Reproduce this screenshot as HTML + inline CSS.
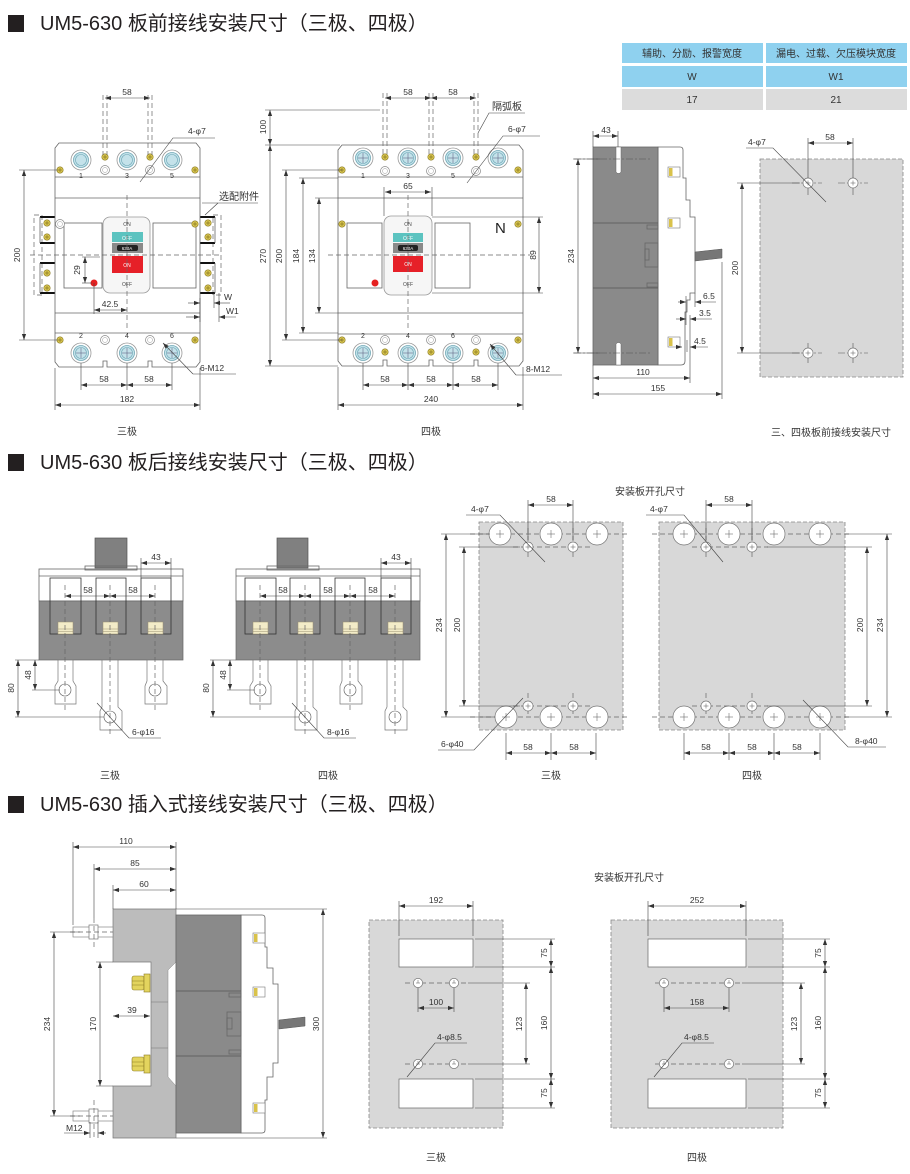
<!DOCTYPE html>
<html><head><meta charset="utf-8">
<style>
html,body{margin:0;padding:0;background:#fff;}
svg{display:block;}
.t{font-family:"Liberation Sans","Noto Sans CJK SC",sans-serif;font-size:8.5px;fill:#333;}
.c{font-family:"Liberation Sans","Noto Sans CJK SC",sans-serif;font-size:10px;fill:#333;}
.h{font-family:"Liberation Sans","Noto Sans CJK SC",sans-serif;font-size:20px;fill:#231f20;}
.d{stroke:#444;stroke-width:0.6;fill:none;}
.o{stroke:#666;stroke-width:0.8;fill:none;}
.ds{stroke:#666;stroke-width:0.7;fill:none;stroke-dasharray:5,3;}
.cl{stroke:#555;stroke-width:0.6;fill:none;stroke-dasharray:7,2,2,2;}
</style></head><body>
<svg width="910" height="1174" viewBox="0 0 910 1174" xmlns="http://www.w3.org/2000/svg">
<defs>
<marker id="a" viewBox="0 0 10 10" refX="10" refY="5" markerWidth="6" markerHeight="6" orient="auto-start-reverse" markerUnits="userSpaceOnUse"><path d="M0,1.5 L10,5 L0,8.5 z" fill="#333"/></marker>
<g id="term"><circle r="10" fill="#fff" stroke="#999" stroke-width="0.8"/><circle r="7.5" fill="#c4e2ea" stroke="#6fa8b6" stroke-width="0.8"/><circle r="5.5" fill="none" stroke="#6fa8b6" stroke-width="0.6"/></g>
<g id="termx"><use href="#term"/><line x1="-5" y1="0" x2="5" y2="0" stroke="#557" stroke-width="0.5"/><line x1="0" y1="-5" x2="0" y2="5" stroke="#557" stroke-width="0.5"/></g>
<g id="ys"><circle r="3.2" fill="#d9c650" stroke="#8b7a22" stroke-width="0.6"/><line x1="-2" y1="0" x2="2" y2="0" stroke="#6b5a10" stroke-width="0.5"/><line x1="0" y1="-2" x2="0" y2="2" stroke="#6b5a10" stroke-width="0.5"/></g>
<g id="ws"><circle r="4.5" fill="#fff" stroke="#888" stroke-width="0.7"/><circle r="2.5" fill="none" stroke="#999" stroke-width="0.5"/></g>
<g id="bh"><circle r="11" fill="#fff" stroke="#777" stroke-width="0.7"/><line x1="-4" y1="0" x2="4" y2="0" stroke="#555" stroke-width="0.5"/><line x1="0" y1="-4" x2="0" y2="4" stroke="#555" stroke-width="0.5"/></g>
<g id="sh"><circle r="5" fill="#fff" stroke="#777" stroke-width="0.7"/><line x1="-2.5" y1="0" x2="2.5" y2="0" stroke="#555" stroke-width="0.5"/><line x1="0" y1="-2.5" x2="0" y2="2.5" stroke="#555" stroke-width="0.5"/></g>
<g id="ph"><circle r="4.6" fill="#fff" stroke="#777" stroke-width="0.7"/><line x1="0" y1="-3" x2="0" y2="0" stroke="#555" stroke-width="0.5"/><line x1="-2" y1="0" x2="2" y2="0" stroke="#555" stroke-width="0.5"/></g>
</defs>

<!-- Headers -->
<rect x="8" y="15" width="16" height="17" fill="#231f20"/>
<text class="h" x="40" y="30">UM5-630  板前接线安装尺寸（三极、四极）</text>
<rect x="8" y="454" width="16" height="17" fill="#231f20"/>
<text class="h" x="40" y="469">UM5-630  板后接线安装尺寸（三极、四极）</text>
<rect x="8" y="796" width="16" height="17" fill="#231f20"/>
<text class="h" x="40" y="811">UM5-630  插入式接线安装尺寸（三极、四极）</text>

<!-- Table -->
<rect x="622" y="43" width="141" height="20" fill="#8fd1ef"/>
<rect x="766" y="43" width="141" height="20" fill="#8fd1ef"/>
<rect x="622" y="66" width="141" height="21" fill="#8fd1ef"/>
<rect x="766" y="66" width="141" height="21" fill="#8fd1ef"/>
<rect x="622" y="89" width="141" height="21" fill="#dcdcdc"/>
<rect x="766" y="89" width="141" height="21" fill="#dcdcdc"/>
<text class="c" x="692" y="57" text-anchor="middle" fill="#222">辅助、分励、报警宽度</text>
<text class="c" x="836" y="57" text-anchor="middle" fill="#222">漏电、过载、欠压模块宽度</text>
<text class="c" x="692" y="80" text-anchor="middle">W</text>
<text class="c" x="836" y="80" text-anchor="middle">W1</text>
<text class="c" x="692" y="103" text-anchor="middle">17</text>
<text class="c" x="836" y="103" text-anchor="middle">21</text>

<!-- ===== 3-pole front ===== -->
<g>
<rect x="34" y="215" width="8" height="80" class="ds"/>
<rect x="213" y="215" width="8" height="80" class="ds"/>
<g stroke="#111" stroke-width="2">
<line x1="40" y1="217" x2="55" y2="217"/><line x1="40" y1="243" x2="55" y2="243"/><line x1="40" y1="263" x2="55" y2="263"/><line x1="40" y1="293" x2="55" y2="293"/>
<line x1="200" y1="217" x2="215" y2="217"/><line x1="200" y1="243" x2="215" y2="243"/><line x1="200" y1="263" x2="215" y2="263"/><line x1="200" y1="293" x2="215" y2="293"/>
</g>
<g class="o"><line x1="40" y1="217" x2="40" y2="243"/><line x1="40" y1="263" x2="40" y2="293"/><line x1="215" y1="217" x2="215" y2="243"/><line x1="215" y1="263" x2="215" y2="293"/></g>
<path d="M55,148 L59,143 L196,143 L200,148 L200,362 L196,367 L152,367 L152,361 L148,361 L148,367 L107,367 L107,361 L103,361 L103,367 L59,367 L55,362 Z" fill="#fff" class="o"/>
<g class="o"><line x1="55" y1="177" x2="200" y2="177"/><line x1="55" y1="198" x2="200" y2="198"/><line x1="55" y1="313" x2="200" y2="313"/><line x1="55" y1="333" x2="200" y2="333"/></g>
<rect x="64" y="223" width="38" height="65" class="o"/>
<rect x="153" y="223" width="43" height="65" class="o"/>
<use href="#term" x="81" y="160"/><use href="#term" x="127" y="160"/><use href="#term" x="172" y="160"/>
<use href="#termx" x="81" y="353"/><use href="#termx" x="127" y="353"/><use href="#termx" x="172" y="353"/>
<use href="#ws" x="105" y="170"/><use href="#ws" x="150" y="170"/><use href="#ws" x="105" y="340"/><use href="#ws" x="150" y="340"/>
<use href="#ys" x="105" y="157"/><use href="#ys" x="150" y="157"/>
<use href="#ys" x="60" y="170"/><use href="#ys" x="195" y="170"/><use href="#ys" x="60" y="340"/><use href="#ys" x="195" y="340"/>
<use href="#ws" x="60" y="224"/><use href="#ys" x="195" y="224"/>
<use href="#ys" x="47" y="223"/><use href="#ys" x="47" y="237"/><use href="#ys" x="47" y="273"/><use href="#ys" x="47" y="288"/>
<use href="#ys" x="208" y="223"/><use href="#ys" x="208" y="237"/><use href="#ys" x="208" y="273"/><use href="#ys" x="208" y="288"/>
<g class="t" font-size="7" text-anchor="middle"><text x="81" y="178" font-size="7">1</text><text x="127" y="178" font-size="7">3</text><text x="172" y="178" font-size="7">5</text>
<text x="81" y="338" font-size="7">2</text><text x="127" y="338" font-size="7">4</text><text x="172" y="338" font-size="7">6</text></g>
<rect x="103" y="217" width="47" height="76" rx="7" fill="#f6f6f6" stroke="#999" stroke-width="0.8"/>
<rect x="112" y="232" width="31" height="10" fill="#5cc3c0"/>
<rect x="112" y="243" width="31" height="10" fill="#8a8a8a"/>
<rect x="117" y="245" width="21" height="6" rx="2" fill="#222"/>
<rect x="112" y="256" width="31" height="17" fill="#e62028"/>
<text x="127" y="240" font-size="5" fill="#fff" text-anchor="middle" font-family="Liberation Sans">OFF</text>
<text x="127" y="250" font-size="4.5" fill="#fff" text-anchor="middle" font-family="Liberation Sans">630A</text>
<text x="127" y="267" font-size="5" fill="#fff" text-anchor="middle" font-family="Liberation Sans">ON</text>
<text x="127" y="226" font-size="5" fill="#444" text-anchor="middle" font-family="Liberation Sans">ON</text>
<text x="127" y="286" font-size="5" fill="#444" text-anchor="middle" font-family="Liberation Sans">OFF</text>
<circle cx="94" cy="283" r="3.5" fill="#e52020"/>
<line x1="30" y1="255" x2="222" y2="255" class="ds"/>
<line x1="127" y1="195" x2="127" y2="330" class="ds"/>
<g class="ds" stroke-dasharray="4,2"><line x1="103" y1="95" x2="103" y2="155"/><line x1="107" y1="95" x2="107" y2="155"/><line x1="148" y1="95" x2="148" y2="155"/><line x1="152" y1="95" x2="152" y2="155"/></g>
<line x1="105" y1="98" x2="150" y2="98" class="d" marker-start="url(#a)" marker-end="url(#a)"/>
<text class="t" x="127" y="95" text-anchor="middle">58</text>
<polyline points="215,138 173,138 140,182" class="d"/>
<text class="t" x="188" y="134">4-φ7</text>
<g class="d"><line x1="19" y1="170" x2="58" y2="170"/><line x1="19" y1="340" x2="58" y2="340"/></g>
<line x1="24" y1="170" x2="24" y2="340" class="d" marker-start="url(#a)" marker-end="url(#a)"/>
<text class="t" transform="translate(20,255) rotate(-90)" text-anchor="middle">200</text>
<g class="d"><line x1="82" y1="257" x2="100" y2="257"/><line x1="82" y1="283" x2="92" y2="283"/><line x1="94" y1="283" x2="94" y2="314"/></g>
<line x1="85" y1="257" x2="85" y2="283" class="d" marker-start="url(#a)" marker-end="url(#a)"/>
<text class="t" transform="translate(80,270) rotate(-90)" text-anchor="middle">29</text>
<line x1="94" y1="310" x2="127" y2="310" class="d" marker-start="url(#a)" marker-end="url(#a)"/>
<text class="t" x="110" y="307" text-anchor="middle">42.5</text>
<g class="d"><line x1="214" y1="293" x2="214" y2="308"/><line x1="219" y1="293" x2="219" y2="322"/><line x1="200" y1="298" x2="200" y2="322"/></g>
<line x1="188" y1="303" x2="200" y2="303" class="d" marker-end="url(#a)"/>
<line x1="230" y1="303" x2="214" y2="303" class="d" marker-end="url(#a)"/>
<text class="t" x="224" y="300">W</text>
<line x1="186" y1="317" x2="200" y2="317" class="d" marker-end="url(#a)"/>
<line x1="236" y1="317" x2="219" y2="317" class="d" marker-end="url(#a)"/>
<text class="t" x="226" y="314">W1</text>
<polyline points="202,203 218,203 258,203" class="d"/><line x1="218" y1="203" x2="205" y2="215" class="d"/>
<text class="c" x="219" y="200">选配附件</text>
<line x1="163" y1="343" x2="193" y2="374" class="d" marker-start="url(#a)"/><line x1="193" y1="374" x2="236" y2="374" class="d"/>
<text class="t" x="200" y="371">6-M12</text>
<g class="d"><line x1="81" y1="363" x2="81" y2="390"/><line x1="127" y1="363" x2="127" y2="390"/><line x1="172" y1="363" x2="172" y2="390"/><line x1="55" y1="368" x2="55" y2="410"/><line x1="200" y1="368" x2="200" y2="410"/></g>
<line x1="81" y1="385" x2="127" y2="385" class="d" marker-start="url(#a)" marker-end="url(#a)"/>
<line x1="127" y1="385" x2="172" y2="385" class="d" marker-start="url(#a)" marker-end="url(#a)"/>
<text class="t" x="104" y="382" text-anchor="middle">58</text><text class="t" x="149" y="382" text-anchor="middle">58</text>
<line x1="55" y1="405" x2="200" y2="405" class="d" marker-start="url(#a)" marker-end="url(#a)"/>
<text class="t" x="127" y="402" text-anchor="middle">182</text>
<text class="c" x="127" y="435" text-anchor="middle">三极</text>
</g>

<!-- ===== 4-pole front ===== -->
<g>
<path d="M338,150 L342,145 L519,145 L523,150 L523,361 L519,366 L478,366 L478,360 L474,360 L474,366 L433,366 L433,360 L429,360 L429,366 L387,366 L387,360 L383,360 L383,366 L342,366 L338,361 Z" fill="#fff" class="o"/>
<g class="o"><line x1="338" y1="177" x2="523" y2="177"/><line x1="338" y1="198" x2="523" y2="198"/><line x1="338" y1="313" x2="523" y2="313"/><line x1="338" y1="334" x2="523" y2="334"/></g>
<rect x="347" y="223" width="35" height="65" class="o"/>
<rect x="435" y="223" width="35" height="65" class="o"/>
<use href="#termx" x="363" y="158"/><use href="#termx" x="408" y="158"/><use href="#termx" x="453" y="158"/><use href="#termx" x="498" y="158"/>
<use href="#termx" x="363" y="353"/><use href="#termx" x="408" y="353"/><use href="#termx" x="453" y="353"/><use href="#termx" x="498" y="353"/>
<use href="#ys" x="385" y="157"/><use href="#ys" x="431" y="157"/><use href="#ys" x="476" y="157"/>
<use href="#ws" x="385" y="171"/><use href="#ws" x="431" y="171"/><use href="#ws" x="476" y="171"/>
<use href="#ws" x="385" y="340"/><use href="#ws" x="431" y="340"/><use href="#ws" x="476" y="340"/>
<use href="#ys" x="385" y="352"/><use href="#ys" x="431" y="352"/><use href="#ys" x="476" y="352"/>
<use href="#ys" x="342" y="170"/><use href="#ys" x="518" y="170"/><use href="#ys" x="342" y="340"/><use href="#ys" x="518" y="340"/>
<use href="#ys" x="342" y="224"/><use href="#ys" x="518" y="224"/>
<g class="t" text-anchor="middle"><text x="363" y="178" font-size="7">1</text><text x="408" y="178" font-size="7">3</text><text x="453" y="178" font-size="7">5</text>
<text x="363" y="338" font-size="7">2</text><text x="408" y="338" font-size="7">4</text><text x="453" y="338" font-size="7">6</text></g>
<rect x="384" y="216" width="48" height="79" rx="7" fill="#f6f6f6" stroke="#999" stroke-width="0.8"/>
<rect x="393" y="233" width="30" height="9" fill="#5cc3c0"/>
<rect x="393" y="243" width="30" height="10" fill="#8a8a8a"/>
<rect x="398" y="245" width="20" height="6" rx="2" fill="#222"/>
<rect x="393" y="256" width="30" height="16" fill="#e62028"/>
<text x="408" y="240" font-size="5" fill="#fff" text-anchor="middle" font-family="Liberation Sans">OFF</text>
<text x="408" y="250" font-size="4.5" fill="#fff" text-anchor="middle" font-family="Liberation Sans">630A</text>
<text x="408" y="266" font-size="5" fill="#fff" text-anchor="middle" font-family="Liberation Sans">ON</text>
<text x="408" y="226" font-size="5" fill="#444" text-anchor="middle" font-family="Liberation Sans">ON</text>
<text x="408" y="286" font-size="5" fill="#444" text-anchor="middle" font-family="Liberation Sans">OFF</text>
<circle cx="375" cy="283" r="3.5" fill="#e52020"/>
<text x="495" y="233" font-size="15" fill="#222" font-family="Liberation Sans">N</text>
<line x1="328" y1="255" x2="530" y2="255" class="ds"/>
<line x1="408" y1="195" x2="408" y2="330" class="ds"/>
<g class="ds" stroke-dasharray="4,2"><line x1="383" y1="93" x2="383" y2="155"/><line x1="387" y1="93" x2="387" y2="155"/><line x1="429" y1="93" x2="429" y2="155"/><line x1="433" y1="93" x2="433" y2="155"/><line x1="474" y1="93" x2="474" y2="155"/><line x1="478" y1="93" x2="478" y2="155"/></g>
<line x1="385" y1="98" x2="431" y2="98" class="d" marker-start="url(#a)" marker-end="url(#a)"/>
<line x1="431" y1="98" x2="476" y2="98" class="d" marker-start="url(#a)" marker-end="url(#a)"/>
<text class="t" x="408" y="95" text-anchor="middle">58</text><text class="t" x="453" y="95" text-anchor="middle">58</text>
<polyline points="525,113 489,113 478,133" class="d"/>
<text class="c" x="492" y="110">隔弧板</text>
<polyline points="540,136 503,136 467,183" class="d"/>
<text class="t" x="508" y="132">6-φ7</text>
<g class="d"><line x1="265" y1="110" x2="380" y2="110"/><line x1="265" y1="145" x2="340" y2="145"/><line x1="265" y1="366" x2="338" y2="366"/>
<line x1="282" y1="170" x2="342" y2="170"/><line x1="282" y1="340" x2="342" y2="340"/>
<line x1="299" y1="178" x2="338" y2="178"/><line x1="299" y1="333" x2="338" y2="333"/>
<line x1="315" y1="198" x2="338" y2="198"/><line x1="315" y1="313" x2="338" y2="313"/></g>
<line x1="270" y1="110" x2="270" y2="145" class="d" marker-start="url(#a)" marker-end="url(#a)"/>
<line x1="270" y1="145" x2="270" y2="366" class="d" marker-start="url(#a)" marker-end="url(#a)"/>
<line x1="286" y1="170" x2="286" y2="340" class="d" marker-start="url(#a)" marker-end="url(#a)"/>
<line x1="303" y1="178" x2="303" y2="333" class="d" marker-start="url(#a)" marker-end="url(#a)"/>
<line x1="319" y1="198" x2="319" y2="313" class="d" marker-start="url(#a)" marker-end="url(#a)"/>
<text class="t" transform="translate(266,127) rotate(-90)" text-anchor="middle">100</text>
<text class="t" transform="translate(266,256) rotate(-90)" text-anchor="middle">270</text>
<text class="t" transform="translate(282,256) rotate(-90)" text-anchor="middle">200</text>
<text class="t" transform="translate(299,256) rotate(-90)" text-anchor="middle">184</text>
<text class="t" transform="translate(315,256) rotate(-90)" text-anchor="middle">134</text>
<g class="d"><line x1="384" y1="187" x2="384" y2="216"/><line x1="432" y1="187" x2="432" y2="216"/></g>
<line x1="385" y1="192" x2="431" y2="192" class="d" marker-start="url(#a)" marker-end="url(#a)"/>
<text class="t" x="408" y="189" text-anchor="middle">65</text>
<g class="d"><line x1="432" y1="217" x2="543" y2="217"/><line x1="432" y1="293" x2="543" y2="293"/></g>
<line x1="539" y1="217" x2="539" y2="293" class="d" marker-start="url(#a)" marker-end="url(#a)"/>
<text class="t" transform="translate(536,255) rotate(-90)" text-anchor="middle">89</text>
<line x1="490" y1="344" x2="516" y2="375" class="d" marker-start="url(#a)"/><line x1="516" y1="375" x2="562" y2="375" class="d"/>
<text class="t" x="526" y="372">8-M12</text>
<g class="d"><line x1="363" y1="363" x2="363" y2="390"/><line x1="408" y1="363" x2="408" y2="390"/><line x1="453" y1="363" x2="453" y2="390"/><line x1="498" y1="363" x2="498" y2="390"/><line x1="338" y1="367" x2="338" y2="410"/><line x1="523" y1="367" x2="523" y2="410"/></g>
<line x1="363" y1="385" x2="408" y2="385" class="d" marker-start="url(#a)" marker-end="url(#a)"/>
<line x1="408" y1="385" x2="453" y2="385" class="d" marker-start="url(#a)" marker-end="url(#a)"/>
<line x1="453" y1="385" x2="498" y2="385" class="d" marker-start="url(#a)" marker-end="url(#a)"/>
<text class="t" x="385" y="382" text-anchor="middle">58</text><text class="t" x="431" y="382" text-anchor="middle">58</text><text class="t" x="476" y="382" text-anchor="middle">58</text>
<line x1="338" y1="405" x2="523" y2="405" class="d" marker-start="url(#a)" marker-end="url(#a)"/>
<text class="t" x="431" y="402" text-anchor="middle">240</text>
<text class="c" x="431" y="435" text-anchor="middle">四极</text>
</g>

<!-- ===== side view ===== -->
<g>
<path d="M658,147 L680,147 Q683,147 683,150 L683,178 L686,178 L686,200 L690,200 L690,217 L695,217 L695,293 L690,293 L690,300 L687,300 L687,312 L685,312 L685,361 Q685,365 681,365 L658,365 Z" fill="#fff" class="o"/>
<rect x="593" y="147" width="65" height="218" fill="#8a8a8a" stroke="#666" stroke-width="0.8"/>
<g stroke="#555" stroke-width="0.8"><line x1="593" y1="223" x2="658" y2="223"/><line x1="593" y1="288" x2="658" y2="288"/></g>
<path d="M616,147 L616,172 Q618.5,175 621,172 L621,147 Z" fill="#fff" stroke="#666" stroke-width="0.5"/>
<path d="M616,365 L616,344 Q618.5,341 621,344 L621,365 Z" fill="#fff" stroke="#666" stroke-width="0.5"/>
<g class="o" stroke="#555"><rect x="647" y="225" width="11" height="4"/><rect x="647" y="283" width="11" height="4"/><rect x="645" y="243" width="13" height="24"/><rect x="645" y="249" width="4" height="11"/></g>
<line x1="574" y1="159" x2="650" y2="159" class="cl"/><line x1="574" y1="353" x2="650" y2="353" class="cl"/>
<g><rect x="668" y="167" width="12" height="10" fill="#fff" stroke="#777" stroke-width="0.6"/><rect x="669" y="168" width="3.5" height="8" fill="#d9c24a"/>
<rect x="668" y="218" width="12" height="10" fill="#fff" stroke="#777" stroke-width="0.6"/><rect x="669" y="219" width="3.5" height="8" fill="#d9c24a"/>
<rect x="668" y="337" width="12" height="10" fill="#fff" stroke="#777" stroke-width="0.6"/><rect x="669" y="338" width="3.5" height="8" fill="#d9c24a"/></g>
<polygon points="695,252 722,249 722,258 695,261" fill="#777" stroke="#555" stroke-width="0.5"/>
<g class="d"><line x1="593" y1="131" x2="593" y2="147"/><line x1="618" y1="131" x2="618" y2="147"/></g>
<line x1="593" y1="136" x2="618" y2="136" class="d" marker-start="url(#a)" marker-end="url(#a)"/>
<text class="t" x="606" y="133" text-anchor="middle">43</text>
<g class="d"><line x1="573" y1="159" x2="600" y2="159"/><line x1="573" y1="353" x2="600" y2="353"/></g>
<line x1="578" y1="159" x2="578" y2="353" class="d" marker-start="url(#a)" marker-end="url(#a)"/>
<text class="t" transform="translate(574,256) rotate(-90)" text-anchor="middle">234</text>
<g class="d"><line x1="686" y1="296" x2="686" y2="325"/><line x1="695" y1="293" x2="695" y2="307"/><line x1="690" y1="315" x2="690" y2="353"/><line x1="687" y1="340" x2="687" y2="352"/></g>
<line x1="678" y1="302" x2="686" y2="302" class="d" marker-end="url(#a)"/><line x1="716" y1="302" x2="695" y2="302" class="d" marker-end="url(#a)"/>
<text class="t" x="703" y="299">6.5</text>
<line x1="676" y1="319" x2="686" y2="319" class="d" marker-end="url(#a)"/><line x1="712" y1="319" x2="690" y2="319" class="d" marker-end="url(#a)"/>
<text class="t" x="699" y="316">3.5</text>
<line x1="676" y1="347" x2="682" y2="347" class="d" marker-end="url(#a)"/><line x1="708" y1="347" x2="690" y2="347" class="d" marker-end="url(#a)"/>
<text class="t" x="694" y="344">4.5</text>
<g class="d"><line x1="593" y1="365" x2="593" y2="399"/><line x1="690" y1="353" x2="690" y2="383"/><line x1="722" y1="262" x2="722" y2="399"/></g>
<line x1="593" y1="378" x2="690" y2="378" class="d" marker-start="url(#a)" marker-end="url(#a)"/>
<text class="t" x="643" y="375" text-anchor="middle">110</text>
<line x1="593" y1="394" x2="722" y2="394" class="d" marker-start="url(#a)" marker-end="url(#a)"/>
<text class="t" x="658" y="391" text-anchor="middle">155</text>
</g>

<!-- front mounting panel -->
<g>
<rect x="760" y="159" width="143" height="218" fill="#d8d8d8" stroke="#888" stroke-width="0.8" stroke-dasharray="4,2"/>
<g class="cl"><line x1="792" y1="183" x2="822" y2="183"/><line x1="838" y1="183" x2="868" y2="183"/><line x1="792" y1="353" x2="822" y2="353"/><line x1="838" y1="353" x2="868" y2="353"/>
<line x1="808" y1="343" x2="808" y2="363"/><line x1="853" y1="343" x2="853" y2="363"/><line x1="808" y1="188" x2="808" y2="196"/><line x1="853" y1="188" x2="853" y2="196"/></g>
<use href="#sh" x="808" y="183"/><use href="#sh" x="853" y="183"/><use href="#sh" x="808" y="353"/><use href="#sh" x="853" y="353"/>
<g class="d"><line x1="808" y1="138" x2="808" y2="178"/><line x1="853" y1="138" x2="853" y2="178"/><line x1="737" y1="183" x2="800" y2="183"/><line x1="737" y1="353" x2="800" y2="353"/></g>
<line x1="808" y1="143" x2="853" y2="143" class="d" marker-start="url(#a)" marker-end="url(#a)"/>
<text class="t" x="830" y="140" text-anchor="middle">58</text>
<polyline points="746,148 773,148 826,202" class="d"/>
<text class="t" x="748" y="145">4-φ7</text>
<line x1="742" y1="183" x2="742" y2="353" class="d" marker-start="url(#a)" marker-end="url(#a)"/>
<text class="t" transform="translate(738,268) rotate(-90)" text-anchor="middle">200</text>
<text class="c" x="831" y="436" text-anchor="middle">三、四极板前接线安装尺寸</text>
</g>

<!-- ===== rear 3-pole ===== -->
<g>
<rect x="95" y="538" width="32" height="30" fill="#808080" stroke="#555" stroke-width="0.7"/>
<rect x="85" y="566" width="52" height="4" fill="#fff" class="o"/>
<rect x="39" y="569" width="144" height="32" fill="#fff" class="o"/>
<line x1="39" y1="576" x2="183" y2="576" class="o"/>
<rect x="39" y="601" width="144" height="59" fill="#8c8c8c" stroke="#666" stroke-width="0.7"/>
<g stroke="#333" stroke-width="0.8" fill="none"><rect x="50" y="578" width="31" height="56"/><rect x="96" y="578" width="30" height="56"/><rect x="141" y="578" width="30" height="56"/></g>
<g fill="#f3ecc8" stroke="#9a9070" stroke-width="0.5"><rect x="58" y="622" width="15" height="12"/><rect x="103" y="622" width="15" height="12"/><rect x="148" y="622" width="15" height="12"/></g>
<g stroke="#9a9070" stroke-width="0.5"><line x1="58" y1="629" x2="73" y2="629"/><line x1="58" y1="631.5" x2="73" y2="631.5"/><line x1="103" y1="629" x2="118" y2="629"/><line x1="103" y1="631.5" x2="118" y2="631.5"/><line x1="148" y1="629" x2="163" y2="629"/><line x1="148" y1="631.5" x2="163" y2="631.5"/></g>
<g fill="#fff" stroke="#777" stroke-width="0.7">
<path d="M58,660 V681 L55,686 V704 H76 V686 L73,681 V660 Z"/>
<path d="M102,660 V707 L100,711 V730 H122 V711 L118,707 V660 Z"/>
<path d="M147,660 V681 L145,686 V704 H167 V686 L163,681 V660 Z"/>
</g>
<g fill="#fff" stroke="#555" stroke-width="0.6"><circle cx="65" cy="690" r="6"/><circle cx="110" cy="717" r="6"/><circle cx="155" cy="690" r="6"/></g>
<g class="ds" stroke-dasharray="5,3"><line x1="65" y1="585" x2="65" y2="712"/><line x1="110" y1="585" x2="110" y2="735"/><line x1="155" y1="585" x2="155" y2="712"/></g>
<line x1="65" y1="596" x2="110" y2="596" class="d" marker-start="url(#a)" marker-end="url(#a)"/>
<line x1="110" y1="596" x2="155" y2="596" class="d" marker-start="url(#a)" marker-end="url(#a)"/>
<text class="t" x="88" y="593" text-anchor="middle">58</text><text class="t" x="133" y="593" text-anchor="middle">58</text>
<g class="d"><line x1="141" y1="558" x2="141" y2="578"/><line x1="171" y1="558" x2="171" y2="578"/></g>
<line x1="141" y1="563" x2="171" y2="563" class="d" marker-start="url(#a)" marker-end="url(#a)"/>
<text class="t" x="156" y="560" text-anchor="middle">43</text>
<g class="d"><line x1="15" y1="660" x2="39" y2="660"/><line x1="32" y1="690" x2="60" y2="690"/><line x1="15" y1="717" x2="104" y2="717"/></g>
<line x1="35" y1="660" x2="35" y2="690" class="d" marker-start="url(#a)" marker-end="url(#a)"/>
<line x1="18" y1="660" x2="18" y2="717" class="d" marker-start="url(#a)" marker-end="url(#a)"/>
<text class="t" transform="translate(31,675) rotate(-90)" text-anchor="middle">48</text>
<text class="t" transform="translate(14,688) rotate(-90)" text-anchor="middle">80</text>
<polyline points="97,703 129,738 161,738" class="d"/>
<text class="t" x="132" y="735">6-φ16</text>
<text class="c" x="110" y="779" text-anchor="middle">三极</text>
</g>

<!-- ===== rear 4-pole ===== -->
<g>
<rect x="277" y="538" width="31" height="30" fill="#808080" stroke="#555" stroke-width="0.7"/>
<rect x="267" y="566" width="52" height="4" fill="#fff" class="o"/>
<rect x="236" y="569" width="184" height="32" fill="#fff" class="o"/>
<line x1="236" y1="576" x2="420" y2="576" class="o"/>
<rect x="236" y="601" width="184" height="59" fill="#8c8c8c" stroke="#666" stroke-width="0.7"/>
<g stroke="#333" stroke-width="0.8" fill="none"><rect x="245" y="578" width="31" height="56"/><rect x="290" y="578" width="30" height="56"/><rect x="335" y="578" width="30" height="56"/><rect x="381" y="578" width="30" height="56"/></g>
<g fill="#f3ecc8" stroke="#9a9070" stroke-width="0.5"><rect x="253" y="622" width="15" height="12"/><rect x="298" y="622" width="15" height="12"/><rect x="343" y="622" width="15" height="12"/><rect x="388" y="622" width="15" height="12"/></g>
<g stroke="#9a9070" stroke-width="0.5"><line x1="253" y1="629" x2="268" y2="629"/><line x1="298" y1="629" x2="313" y2="629"/><line x1="343" y1="629" x2="358" y2="629"/><line x1="388" y1="629" x2="403" y2="629"/><line x1="253" y1="631.5" x2="268" y2="631.5"/><line x1="298" y1="631.5" x2="313" y2="631.5"/><line x1="343" y1="631.5" x2="358" y2="631.5"/><line x1="388" y1="631.5" x2="403" y2="631.5"/></g>
<g fill="#fff" stroke="#777" stroke-width="0.7">
<path d="M253,660 V681 L250,686 V704 H271 V686 L268,681 V660 Z"/>
<path d="M297,660 V707 L295,711 V730 H317 V711 L313,707 V660 Z"/>
<path d="M342,660 V681 L340,686 V704 H362 V686 L358,681 V660 Z"/>
<path d="M387,660 V707 L385,711 V730 H407 V711 L403,707 V660 Z"/>
</g>
<g fill="#fff" stroke="#555" stroke-width="0.6"><circle cx="260" cy="690" r="6"/><circle cx="305" cy="717" r="6"/><circle cx="350" cy="690" r="6"/><circle cx="395" cy="717" r="6"/></g>
<g class="ds" stroke-dasharray="5,3"><line x1="260" y1="585" x2="260" y2="712"/><line x1="305" y1="585" x2="305" y2="735"/><line x1="350" y1="585" x2="350" y2="712"/><line x1="395" y1="585" x2="395" y2="735"/></g>
<line x1="260" y1="596" x2="305" y2="596" class="d" marker-start="url(#a)" marker-end="url(#a)"/>
<line x1="305" y1="596" x2="350" y2="596" class="d" marker-start="url(#a)" marker-end="url(#a)"/>
<line x1="350" y1="596" x2="395" y2="596" class="d" marker-start="url(#a)" marker-end="url(#a)"/>
<text class="t" x="283" y="593" text-anchor="middle">58</text><text class="t" x="328" y="593" text-anchor="middle">58</text><text class="t" x="373" y="593" text-anchor="middle">58</text>
<g class="d"><line x1="381" y1="558" x2="381" y2="578"/><line x1="411" y1="558" x2="411" y2="578"/></g>
<line x1="381" y1="563" x2="411" y2="563" class="d" marker-start="url(#a)" marker-end="url(#a)"/>
<text class="t" x="396" y="560" text-anchor="middle">43</text>
<g class="d"><line x1="210" y1="660" x2="236" y2="660"/><line x1="227" y1="690" x2="255" y2="690"/><line x1="210" y1="717" x2="299" y2="717"/></g>
<line x1="230" y1="660" x2="230" y2="690" class="d" marker-start="url(#a)" marker-end="url(#a)"/>
<line x1="213" y1="660" x2="213" y2="717" class="d" marker-start="url(#a)" marker-end="url(#a)"/>
<text class="t" transform="translate(226,675) rotate(-90)" text-anchor="middle">48</text>
<text class="t" transform="translate(209,688) rotate(-90)" text-anchor="middle">80</text>
<polyline points="292,703 324,738 356,738" class="d"/>
<text class="t" x="327" y="735">8-φ16</text>
<text class="c" x="328" y="779" text-anchor="middle">四极</text>
</g>

<!-- ===== rear cutout panels ===== -->
<text class="c" x="650" y="495" text-anchor="middle">安装板开孔尺寸</text>
<g>
<rect x="479" y="522" width="144" height="208" fill="#d8d8d8" stroke="#888" stroke-width="0.8" stroke-dasharray="4,2"/>
<g class="ds" stroke-dasharray="6,3"><line x1="470" y1="534" x2="627" y2="534"/><line x1="470" y1="717" x2="627" y2="717"/><line x1="513" y1="547" x2="590" y2="547"/><line x1="513" y1="706" x2="590" y2="706"/>
<line x1="528" y1="528" x2="528" y2="560"/><line x1="573" y1="528" x2="573" y2="560"/><line x1="528" y1="693" x2="528" y2="715"/><line x1="573" y1="693" x2="573" y2="715"/></g>
<use href="#bh" x="500" y="534"/><use href="#bh" x="551" y="534"/><use href="#bh" x="597" y="534"/>
<use href="#bh" x="506" y="717"/><use href="#bh" x="551" y="717"/><use href="#bh" x="597" y="717"/>
<use href="#sh" x="528" y="547"/><use href="#sh" x="573" y="547"/><use href="#sh" x="528" y="706"/><use href="#sh" x="573" y="706"/>
<g class="d"><line x1="441" y1="534" x2="490" y2="534"/><line x1="441" y1="717" x2="495" y2="717"/><line x1="459" y1="547" x2="520" y2="547"/><line x1="459" y1="706" x2="520" y2="706"/>
<line x1="528" y1="500" x2="528" y2="540"/><line x1="573" y1="500" x2="573" y2="540"/>
<line x1="506" y1="733" x2="506" y2="760"/><line x1="551" y1="733" x2="551" y2="760"/><line x1="596" y1="733" x2="596" y2="760"/></g>
<line x1="446" y1="534" x2="446" y2="717" class="d" marker-start="url(#a)" marker-end="url(#a)"/>
<line x1="464" y1="547" x2="464" y2="706" class="d" marker-start="url(#a)" marker-end="url(#a)"/>
<text class="t" transform="translate(442,625) rotate(-90)" text-anchor="middle">234</text>
<text class="t" transform="translate(460,625) rotate(-90)" text-anchor="middle">200</text>
<line x1="528" y1="505" x2="573" y2="505" class="d" marker-start="url(#a)" marker-end="url(#a)"/>
<text class="t" x="551" y="502" text-anchor="middle">58</text>
<polyline points="466,515 500,515 545,562" class="d"/>
<text class="t" x="471" y="512">4-φ7</text>
<polyline points="438,750 474,750 523,698" class="d"/>
<text class="t" x="441" y="747">6-φ40</text>
<line x1="506" y1="753" x2="551" y2="753" class="d" marker-start="url(#a)" marker-end="url(#a)"/>
<line x1="551" y1="753" x2="596" y2="753" class="d" marker-start="url(#a)" marker-end="url(#a)"/>
<text class="t" x="528" y="750" text-anchor="middle">58</text><text class="t" x="574" y="750" text-anchor="middle">58</text>
<text class="c" x="551" y="779" text-anchor="middle">三极</text>
</g>
<g>
<rect x="659" y="522" width="186" height="208" fill="#d8d8d8" stroke="#888" stroke-width="0.8" stroke-dasharray="4,2"/>
<g class="ds" stroke-dasharray="6,3"><line x1="652" y1="534" x2="850" y2="534"/><line x1="652" y1="717" x2="850" y2="717"/><line x1="692" y1="547" x2="768" y2="547"/><line x1="692" y1="706" x2="768" y2="706"/>
<line x1="706" y1="528" x2="706" y2="560"/><line x1="752" y1="528" x2="752" y2="560"/><line x1="706" y1="693" x2="706" y2="715"/><line x1="752" y1="693" x2="752" y2="715"/></g>
<use href="#bh" x="684" y="534"/><use href="#bh" x="729" y="534"/><use href="#bh" x="774" y="534"/><use href="#bh" x="820" y="534"/>
<use href="#bh" x="684" y="717"/><use href="#bh" x="729" y="717"/><use href="#bh" x="774" y="717"/><use href="#bh" x="820" y="717"/>
<use href="#sh" x="706" y="547"/><use href="#sh" x="752" y="547"/><use href="#sh" x="706" y="706"/><use href="#sh" x="752" y="706"/>
<g class="d"><line x1="767" y1="547" x2="872" y2="547"/><line x1="767" y1="706" x2="872" y2="706"/><line x1="845" y1="534" x2="892" y2="534"/><line x1="845" y1="717" x2="892" y2="717"/>
<line x1="706" y1="500" x2="706" y2="540"/><line x1="752" y1="500" x2="752" y2="540"/>
<line x1="684" y1="733" x2="684" y2="760"/><line x1="729" y1="733" x2="729" y2="760"/><line x1="774" y1="733" x2="774" y2="760"/><line x1="820" y1="733" x2="820" y2="760"/></g>
<line x1="867" y1="547" x2="867" y2="706" class="d" marker-start="url(#a)" marker-end="url(#a)"/>
<line x1="887" y1="534" x2="887" y2="717" class="d" marker-start="url(#a)" marker-end="url(#a)"/>
<text class="t" transform="translate(863,625) rotate(-90)" text-anchor="middle">200</text>
<text class="t" transform="translate(883,625) rotate(-90)" text-anchor="middle">234</text>
<line x1="706" y1="505" x2="752" y2="505" class="d" marker-start="url(#a)" marker-end="url(#a)"/>
<text class="t" x="729" y="502" text-anchor="middle">58</text>
<polyline points="646,515 684,515 723,562" class="d"/>
<text class="t" x="650" y="512">4-φ7</text>
<polyline points="886,747 848,747 803,700" class="d"/>
<text class="t" x="855" y="744">8-φ40</text>
<line x1="684" y1="753" x2="729" y2="753" class="d" marker-start="url(#a)" marker-end="url(#a)"/>
<line x1="729" y1="753" x2="774" y2="753" class="d" marker-start="url(#a)" marker-end="url(#a)"/>
<line x1="774" y1="753" x2="820" y2="753" class="d" marker-start="url(#a)" marker-end="url(#a)"/>
<text class="t" x="706" y="750" text-anchor="middle">58</text><text class="t" x="752" y="750" text-anchor="middle">58</text><text class="t" x="797" y="750" text-anchor="middle">58</text>
<text class="c" x="752" y="779" text-anchor="middle">四极</text>
</g>

<!-- ===== plug-in side view ===== -->
<g>
<g class="d"><line x1="176" y1="909" x2="327" y2="909"/><line x1="176" y1="1138" x2="327" y2="1138"/></g>
<path d="M113,909 L176,909 L176,1138 L113,1138 L113,1086 L151,1086 L151,962 L113,962 Z" fill="#bcbcbc" stroke="#777" stroke-width="0.7"/>
<polygon points="176,962 168,970 168,1077 176,1086" fill="#fff" stroke="#888" stroke-width="0.5"/>
<g stroke="#777" stroke-width="0.6"><line x1="151" y1="1002" x2="168" y2="1002"/><line x1="151" y1="1048" x2="168" y2="1048"/></g>
<path d="M241,915 L262,915 Q265,915 265,918 L265,947 L267,947 L267,968 L273,968 L273,984 L278,984 L278,1063 L273,1063 L273,1077 L267,1077 L267,1100 L265,1100 L265,1130 Q265,1133 262,1133 L241,1133 Z" fill="#fff" class="o"/>
<rect x="176" y="915" width="65" height="218" fill="#8a8a8a" stroke="#666" stroke-width="0.8"/>
<g stroke="#555" stroke-width="0.8"><line x1="176" y1="991" x2="241" y2="991"/><line x1="176" y1="1056" x2="241" y2="1056"/></g>
<g class="o" stroke="#555"><rect x="229" y="993" width="12" height="4"/><rect x="229" y="1050" width="12" height="4"/><rect x="227" y="1012" width="14" height="24"/><rect x="227" y="1018" width="5" height="11"/></g>
<g><rect x="253" y="933" width="12" height="10" fill="#fff" stroke="#777" stroke-width="0.6"/><rect x="254" y="934" width="3.5" height="8" fill="#d9c24a"/>
<rect x="253" y="987" width="12" height="10" fill="#fff" stroke="#777" stroke-width="0.6"/><rect x="254" y="988" width="3.5" height="8" fill="#d9c24a"/>
<rect x="253" y="1103" width="12" height="10" fill="#fff" stroke="#777" stroke-width="0.6"/><rect x="254" y="1104" width="3.5" height="8" fill="#d9c24a"/></g>
<polygon points="279,1020 305,1017 305,1026 279,1029" fill="#777" stroke="#555" stroke-width="0.5"/>
<g fill="#e3d45e" stroke="#8b7a22" stroke-width="0.6">
<rect x="132" y="976" width="12" height="14" rx="2"/><rect x="144" y="974" width="6" height="18"/>
<rect x="132" y="1057" width="12" height="14" rx="2"/><rect x="144" y="1055" width="6" height="18"/></g>
<g stroke="#8b7a22" stroke-width="0.5"><line x1="132" y1="981" x2="144" y2="981"/><line x1="132" y1="985" x2="144" y2="985"/><line x1="132" y1="1062" x2="144" y2="1062"/><line x1="132" y1="1066" x2="144" y2="1066"/></g>
<rect x="73" y="927" width="40" height="10" fill="#fff" stroke="#888" stroke-width="0.7"/>
<rect x="89" y="925" width="9" height="14" fill="#fff" stroke="#777" stroke-width="0.7"/>
<rect x="73" y="1111" width="40" height="10" fill="#fff" stroke="#888" stroke-width="0.7"/>
<rect x="89" y="1109" width="9" height="14" fill="#fff" stroke="#777" stroke-width="0.7"/>
<g class="ds" stroke-dasharray="4,2"><line x1="70" y1="932" x2="113" y2="932"/><line x1="70" y1="1116" x2="113" y2="1116"/><line x1="94" y1="918" x2="94" y2="948"/><line x1="94" y1="1100" x2="94" y2="1140"/></g>
<g class="d"><line x1="73" y1="842" x2="73" y2="925"/><line x1="94" y1="864" x2="94" y2="918"/><line x1="113" y1="885" x2="113" y2="909"/><line x1="176" y1="842" x2="176" y2="909"/>
<line x1="50" y1="932" x2="80" y2="932"/><line x1="50" y1="1116" x2="80" y2="1116"/><line x1="96" y1="962" x2="113" y2="962"/><line x1="96" y1="1086" x2="113" y2="1086"/>
<line x1="90" y1="1122" x2="90" y2="1138"/><line x1="98" y1="1122" x2="98" y2="1138"/></g>
<line x1="73" y1="847" x2="176" y2="847" class="d" marker-start="url(#a)" marker-end="url(#a)"/>
<text class="t" x="126" y="844" text-anchor="middle">110</text>
<line x1="94" y1="869" x2="176" y2="869" class="d" marker-start="url(#a)" marker-end="url(#a)"/>
<text class="t" x="135" y="866" text-anchor="middle">85</text>
<line x1="113" y1="890" x2="176" y2="890" class="d" marker-start="url(#a)" marker-end="url(#a)"/>
<text class="t" x="144" y="887" text-anchor="middle">60</text>
<line x1="54" y1="932" x2="54" y2="1116" class="d" marker-start="url(#a)" marker-end="url(#a)"/>
<text class="t" transform="translate(50,1024) rotate(-90)" text-anchor="middle">234</text>
<line x1="100" y1="962" x2="100" y2="1086" class="d" marker-start="url(#a)" marker-end="url(#a)"/>
<text class="t" transform="translate(96,1024) rotate(-90)" text-anchor="middle">170</text>
<line x1="113" y1="1016" x2="150" y2="1016" class="d" marker-start="url(#a)" marker-end="url(#a)"/>
<text class="t" x="132" y="1013" text-anchor="middle">39</text>
<line x1="64" y1="1133" x2="90" y2="1133" class="d" marker-end="url(#a)"/><line x1="106" y1="1133" x2="98" y2="1133" class="d" marker-end="url(#a)"/>
<text class="t" x="66" y="1131">M12</text>
<line x1="323" y1="909" x2="323" y2="1138" class="d" marker-start="url(#a)" marker-end="url(#a)"/>
<text class="t" transform="translate(319,1024) rotate(-90)" text-anchor="middle">300</text>
</g>

<!-- ===== plug-in cutouts ===== -->
<text class="c" x="629" y="881" text-anchor="middle">安装板开孔尺寸</text>
<g>
<rect x="369" y="920" width="134" height="208" fill="#d8d8d8" stroke="#888" stroke-width="0.8" stroke-dasharray="4,2"/>
<rect x="399" y="939" width="74" height="28" fill="#fff" stroke="#666" stroke-width="0.7"/>
<rect x="399" y="1079" width="74" height="29" fill="#fff" stroke="#666" stroke-width="0.7"/>
<g class="ds" stroke-dasharray="5,3"><line x1="405" y1="983" x2="468" y2="983"/><line x1="405" y1="1064" x2="468" y2="1064"/></g>
<g class="d"><line x1="468" y1="983" x2="530" y2="983"/><line x1="468" y1="1064" x2="530" y2="1064"/>
<line x1="475" y1="939" x2="555" y2="939"/><line x1="475" y1="967" x2="555" y2="967"/><line x1="475" y1="1079" x2="555" y2="1079"/><line x1="475" y1="1108" x2="555" y2="1108"/>
<line x1="399" y1="901" x2="399" y2="936"/><line x1="473" y1="901" x2="473" y2="936"/><line x1="418" y1="987" x2="418" y2="1012"/><line x1="454" y1="987" x2="454" y2="1012"/></g>
<use href="#ph" x="418" y="983"/><use href="#ph" x="454" y="983"/><use href="#ph" x="418" y="1064"/><use href="#ph" x="454" y="1064"/>
<line x1="399" y1="906" x2="473" y2="906" class="d" marker-start="url(#a)" marker-end="url(#a)"/>
<text class="t" x="436" y="903" text-anchor="middle">192</text>
<line x1="418" y1="1008" x2="454" y2="1008" class="d" marker-start="url(#a)" marker-end="url(#a)"/>
<text class="t" x="436" y="1005" text-anchor="middle">100</text>
<line x1="526" y1="983" x2="526" y2="1064" class="d" marker-start="url(#a)" marker-end="url(#a)"/>
<text class="t" transform="translate(522,1024) rotate(-90)" text-anchor="middle">123</text>
<line x1="551" y1="939" x2="551" y2="967" class="d" marker-start="url(#a)" marker-end="url(#a)"/>
<line x1="551" y1="967" x2="551" y2="1079" class="d" marker-start="url(#a)" marker-end="url(#a)"/>
<line x1="551" y1="1079" x2="551" y2="1108" class="d" marker-start="url(#a)" marker-end="url(#a)"/>
<text class="t" transform="translate(547,953) rotate(-90)" text-anchor="middle">75</text>
<text class="t" transform="translate(547,1023) rotate(-90)" text-anchor="middle">160</text>
<text class="t" transform="translate(547,1093) rotate(-90)" text-anchor="middle">75</text>
<polyline points="467,1043 435,1043 407,1077" class="d"/>
<text class="t" x="437" y="1040">4-φ8.5</text>
<text class="c" x="436" y="1161" text-anchor="middle">三极</text>
</g>
<g>
<rect x="611" y="920" width="172" height="208" fill="#d8d8d8" stroke="#888" stroke-width="0.8" stroke-dasharray="4,2"/>
<rect x="648" y="939" width="98" height="28" fill="#fff" stroke="#666" stroke-width="0.7"/>
<rect x="648" y="1079" width="98" height="29" fill="#fff" stroke="#666" stroke-width="0.7"/>
<g class="ds" stroke-dasharray="5,3"><line x1="655" y1="983" x2="742" y2="983"/><line x1="655" y1="1064" x2="742" y2="1064"/></g>
<g class="d"><line x1="742" y1="983" x2="805" y2="983"/><line x1="742" y1="1064" x2="805" y2="1064"/>
<line x1="748" y1="939" x2="830" y2="939"/><line x1="748" y1="967" x2="830" y2="967"/><line x1="748" y1="1079" x2="830" y2="1079"/><line x1="748" y1="1108" x2="830" y2="1108"/>
<line x1="648" y1="901" x2="648" y2="936"/><line x1="746" y1="901" x2="746" y2="936"/><line x1="664" y1="987" x2="664" y2="1012"/><line x1="729" y1="987" x2="729" y2="1012"/></g>
<use href="#ph" x="664" y="983"/><use href="#ph" x="729" y="983"/><use href="#ph" x="664" y="1064"/><use href="#ph" x="729" y="1064"/>
<line x1="648" y1="906" x2="746" y2="906" class="d" marker-start="url(#a)" marker-end="url(#a)"/>
<text class="t" x="697" y="903" text-anchor="middle">252</text>
<line x1="664" y1="1008" x2="729" y2="1008" class="d" marker-start="url(#a)" marker-end="url(#a)"/>
<text class="t" x="697" y="1005" text-anchor="middle">158</text>
<line x1="801" y1="983" x2="801" y2="1064" class="d" marker-start="url(#a)" marker-end="url(#a)"/>
<text class="t" transform="translate(797,1024) rotate(-90)" text-anchor="middle">123</text>
<line x1="825" y1="939" x2="825" y2="967" class="d" marker-start="url(#a)" marker-end="url(#a)"/>
<line x1="825" y1="967" x2="825" y2="1079" class="d" marker-start="url(#a)" marker-end="url(#a)"/>
<line x1="825" y1="1079" x2="825" y2="1108" class="d" marker-start="url(#a)" marker-end="url(#a)"/>
<text class="t" transform="translate(821,953) rotate(-90)" text-anchor="middle">75</text>
<text class="t" transform="translate(821,1023) rotate(-90)" text-anchor="middle">160</text>
<text class="t" transform="translate(821,1093) rotate(-90)" text-anchor="middle">75</text>
<polyline points="714,1043 682,1043 654,1077" class="d"/>
<text class="t" x="684" y="1040">4-φ8.5</text>
<text class="c" x="697" y="1161" text-anchor="middle">四极</text>
</g>
</svg>
</body></html>
